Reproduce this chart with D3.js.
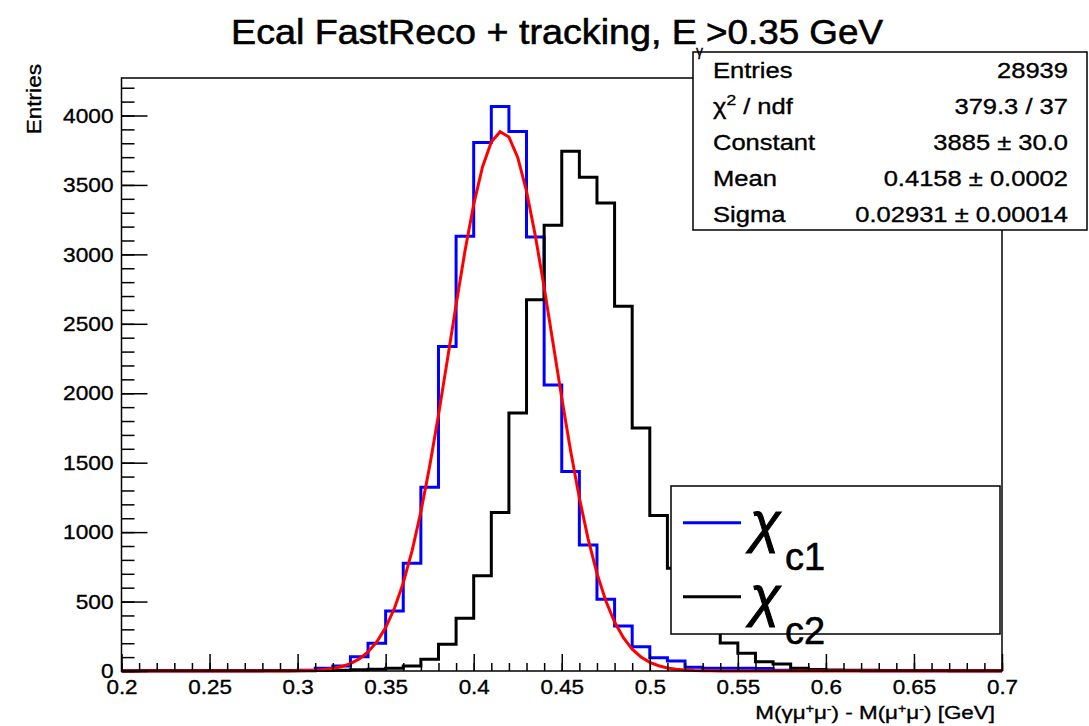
<!DOCTYPE html>
<html>
<head>
<meta charset="utf-8">
<script src="https://cdn.jsdelivr.net/npm/d3@7"></script>
<style>
  body { margin: 0; background: #fff; }
  text { font-family: "Liberation Sans", Arial, Helvetica, sans-serif; fill: #000; stroke: #000; stroke-width: 0.35px; }
</style>
</head>
<body>
<div id="chart"></div>
<script>
// bin lower edges, width 0.01 GeV
const binLow = [0.20, 0.21, 0.22, 0.23, 0.24, 0.25, 0.26, 0.27, 0.28, 0.29,
                0.30, 0.31, 0.32, 0.33, 0.34, 0.35, 0.36, 0.37, 0.38, 0.39,
                0.40, 0.41, 0.42, 0.43, 0.44, 0.45, 0.46, 0.47, 0.48, 0.49,
                0.50, 0.51, 0.52, 0.53, 0.54, 0.55, 0.56, 0.57, 0.58, 0.59,
                0.60, 0.61, 0.62, 0.63, 0.64, 0.65, 0.66, 0.67, 0.68, 0.69]
const binWidth = 0.01

// chi_c1 (blue)
const chic1Counts = [1, 1, 1, 1, 1, 2, 2, 2, 3, 4,
                     6, 19, 36, 103, 200, 432, 776, 1324, 2337, 3130,
                     3805, 4065, 3885, 3125, 2060, 1436, 908, 517, 324, 175,
                     96, 72, 27, 20, 20, 20, 18, 6, 5, 4,
                     3, 3, 2, 2, 2, 1, 1, 1, 1, 1]

// chi_c2 (black)
const chic2Counts = [0, 1, 1, 1, 1, 1, 1, 1, 1, 1,
                     2, 4, 6, 9, 13, 19, 36, 84, 192, 380,
                     685, 1141, 1857, 2674, 3210, 3743, 3555, 3370, 2626, 1749,
                     1120, 740, 480, 300, 202, 128, 67, 50, 20, 10,
                     7, 6, 5, 4, 4, 3, 3, 2, 2, 2]

// gaus fit on chi_c1, parameters from the stats box
const fitConstant = 3885
const fitMean = 0.4158
const fitSigma = 0.02931

const xTicks = [0.2, 0.25, 0.3, 0.35, 0.4, 0.45, 0.5, 0.55, 0.6, 0.65, 0.7]
const xTickLabels = ["0.2", "0.25", "0.3", "0.35", "0.4", "0.45", "0.5", "0.55", "0.6", "0.65", "0.7"]
const yTicks = [0, 500, 1000, 1500, 2000, 2500, 3000, 3500, 4000]
const yTickLabels = ["0", "500", "1000", "1500", "2000", "2500", "3000", "3500", "4000"]

const statsLabels = ["Entries", "χ²", "Constant", "Mean", "Sigma"]
const statsValues = ["28939", "379.3 / 37", "3885 ± 30.0", "0.4158 ± 0.0002", "0.02931 ± 0.00014"]

const W = 1089, H = 726
const frame = {left: 121.5, right: 1002, top: 78, bottom: 671}
const STRETCH = 1.13

const svg = d3.select("#chart").append("svg")
    .attr("width", W)
    .attr("height", H)

const x = d3.scaleLinear().domain([0.2, 0.7]).range([frame.left, frame.right])
const y = d3.scaleLinear().domain([0, 4270]).range([frame.bottom, frame.top])

function stretch(sel, f) {
    sel.each(function() {
        const w = this.getComputedTextLength()
        this.setAttribute("textLength", w * f)
        this.setAttribute("lengthAdjust", "spacingAndGlyphs")
    })
}

svg.append("clipPath").attr("id", "plotclip")
    .append("rect")
    .attr("x", frame.left).attr("y", frame.top - 2)
    .attr("width", frame.right - frame.left).attr("height", frame.bottom - frame.top + 4)

const plot = svg.append("g").attr("clip-path", "url(#plotclip)")

function histPoints(counts) {
    const pts = [[binLow[0], 0]]
    counts.forEach((c, i) => pts.push([binLow[i], c]))
    pts.push([binLow[binLow.length - 1] + binWidth, counts[counts.length - 1]])
    pts.push([binLow[binLow.length - 1] + binWidth, 0])
    return pts
}

const stepLine = d3.line()
    .x(d => x(d[0]))
    .y(d => y(d[1]))
    .curve(d3.curveStepAfter)

plot.append("path")
    .datum(histPoints(chic1Counts))
    .attr("d", stepLine)
    .attr("fill", "none")
    .attr("stroke", "#0000ff")
    .attr("stroke-width", 3)

// fit function sampled like ROOT (100 points)
const fitX = d3.range(0, 101).map(i => 0.2 + i * 0.005)
const fitPts = fitX.map(v => [v, fitConstant * Math.exp(-0.5 * Math.pow((v - fitMean) / fitSigma, 2))])

plot.append("path")
    .datum(histPoints(chic2Counts))
    .attr("d", stepLine)
    .attr("fill", "none")
    .attr("stroke", "#000")
    .attr("stroke-width", 3)

plot.append("path")
    .datum(fitPts)
    .attr("d", d3.line().x(d => x(d[0])).y(d => y(d[1])))
    .attr("fill", "none")
    .attr("stroke", "#ff0000")
    .attr("stroke-width", 3)

// frame
svg.append("rect")
    .attr("x", frame.left).attr("y", frame.top)
    .attr("width", frame.right - frame.left).attr("height", frame.bottom - frame.top)
    .attr("fill", "none")
    .attr("stroke", "#000")
    .attr("stroke-width", 1.5)

// x axis (ticks inside)
const xMinor = d3.range(0, 51).map(i => 0.2 + i * 0.01)
svg.append("g")
    .attr("transform", `translate(0,${frame.bottom})`)
    .call(d3.axisBottom(x).tickValues(xMinor).tickSize(-8).tickFormat(""))
    .call(g => g.select(".domain").remove())
const xAx = svg.append("g")
    .attr("transform", `translate(0,${frame.bottom})`)
    .call(d3.axisBottom(x).tickValues(xTicks).tickSize(-17).tickPadding(9)
        .tickFormat((d, i) => xTickLabels[i]))
    .call(g => g.select(".domain").remove())
xAx.selectAll("text").attr("font-size", 20).attr("font-family", null).attr("fill", "#000")
svg.selectAll(".tick line").attr("stroke", "#000").attr("stroke-width", 1.5)

// y axis (ticks inside)
const yMinor = d3.range(0, 43).map(i => i * 100)
svg.append("g")
    .attr("transform", `translate(${frame.left},0)`)
    .call(d3.axisLeft(y).tickValues(yMinor).tickSize(-13).tickFormat(""))
    .call(g => g.select(".domain").remove())
const yAx = svg.append("g")
    .attr("transform", `translate(${frame.left},0)`)
    .call(d3.axisLeft(y).tickValues(yTicks).tickSize(-26).tickPadding(8)
        .tickFormat((d, i) => yTickLabels[i]))
    .call(g => g.select(".domain").remove())
yAx.selectAll("text").attr("font-size", 21).attr("font-family", null).attr("fill", "#000")
svg.selectAll(".tick line").attr("stroke", "#000").attr("stroke-width", 1.5)
stretch(xAx.selectAll("text"), 1.12)
stretch(yAx.selectAll("text"), 1.08)

// axis titles
svg.append("text")
    .attr("x", 995).attr("y", 719)
    .attr("text-anchor", "end")
    .attr("font-size", 19)
    .html('M(γμ<tspan dy="-6" font-size="12">+</tspan><tspan dy="6">μ</tspan><tspan dy="-6" font-size="12">-</tspan><tspan dy="6">) - M(μ</tspan><tspan dy="-6" font-size="12">+</tspan><tspan dy="6">μ</tspan><tspan dy="-6" font-size="12">-</tspan><tspan dy="6">) [GeV]</tspan>')
    .call(stretch, 1.18)

svg.append("text")
    .attr("transform", "translate(41,64) rotate(-90)")
    .attr("text-anchor", "end")
    .attr("font-size", 20)
    .text("Entries")
    .call(stretch, STRETCH)

// legend
const legend = svg.append("g")
legend.append("rect")
    .attr("x", 671).attr("y", 486).attr("width", 329).attr("height", 148)
    .attr("fill", "#fff").attr("stroke", "#000").attr("stroke-width", 1.5)
const legendItems = [
    {color: "#0000ff", sub: "c1", y: 522.7},
    {color: "#000000", sub: "c2", y: 596.7}
]
legendItems.forEach(d => {
    legend.append("line")
        .attr("x1", 683).attr("x2", 741).attr("y1", d.y).attr("y2", d.y)
        .attr("stroke", d.color).attr("stroke-width", 3)
    legend.append("text")
        .attr("x", 750).attr("y", d.y + 18)
        .attr("font-size", 56)
        .attr("font-style", "italic")
        .style("stroke-width", "1px")
        .text("χ")
    legend.append("text")
        .attr("x", 785).attr("y", d.y + 47)
        .attr("font-size", 38)
        .style("stroke-width", "0.6px")
        .text(d.sub)
})

// stats box
svg.append("rect")
    .attr("x", 693).attr("y", 52).attr("width", 394).attr("height", 178)
    .attr("fill", "#fff").attr("stroke", "#000").attr("stroke-width", 1.5)
const rowY = [78, 114, 150, 186, 222]
statsLabels.forEach((lab, i) => {
    const t = svg.append("text")
        .attr("x", 713).attr("y", rowY[i])
        .attr("font-size", 22)
    if (i === 1) {
        t.html('χ<tspan dy="-9" font-size="15">2</tspan><tspan dy="9"> / ndf</tspan>')
    } else {
        t.text(lab)
    }
    t.call(stretch, 1.16)
    svg.append("text")
        .attr("x", 1068).attr("y", rowY[i])
        .attr("text-anchor", "end")
        .attr("font-size", 22)
        .text(statsValues[i])
        .call(stretch, 1.16)
})

// title
svg.append("text")
    .attr("x", 231).attr("y", 44)
    .attr("font-size", 35)
    .style("stroke-width", "0.6px")
    .attr("textLength", 466).attr("lengthAdjust", "spacingAndGlyphs")
    .text("Ecal FastReco + tracking, E")
svg.append("text")
    .attr("x", 696).attr("y", 56)
    .attr("font-size", 14)
    .text("γ")
svg.append("text")
    .attr("x", 706).attr("y", 44)
    .attr("font-size", 35)
    .style("stroke-width", "0.6px")
    .attr("textLength", 177).attr("lengthAdjust", "spacingAndGlyphs")
    .text(">0.35 GeV")
</script>
</body>
</html>
